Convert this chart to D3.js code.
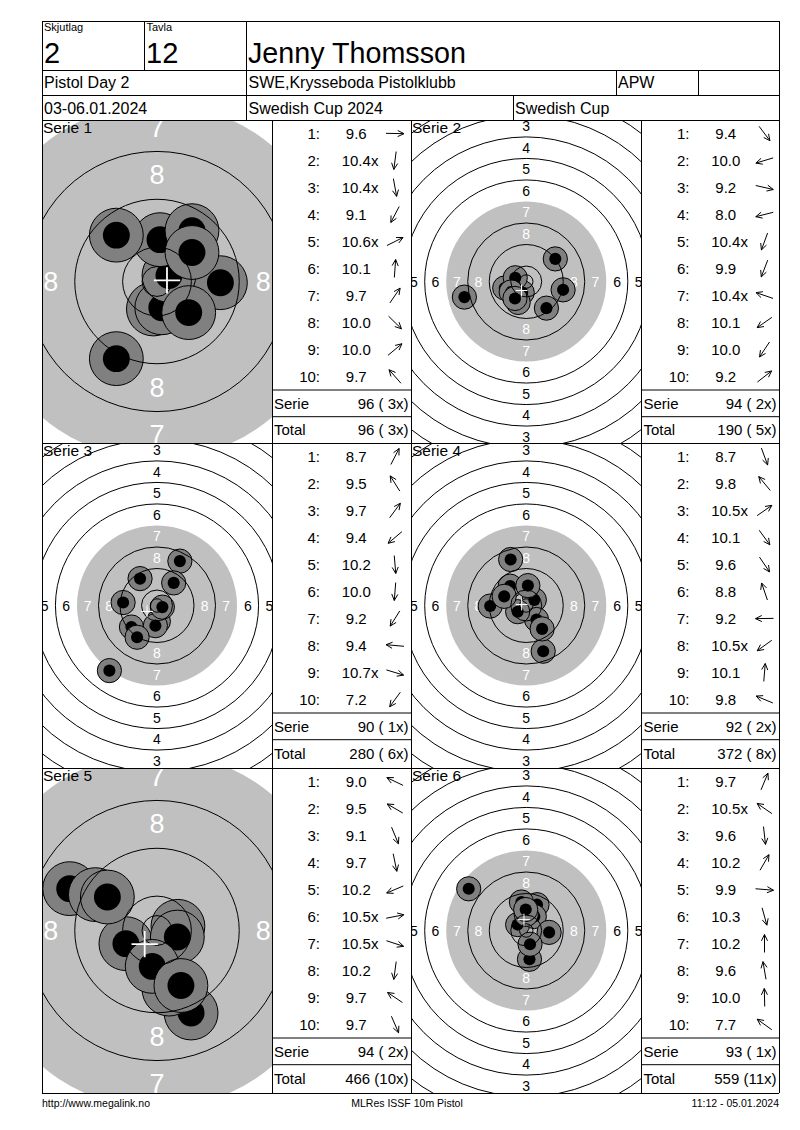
<!DOCTYPE html>
<html>
<head>
<meta charset="utf-8">
<script src="https://cdn.jsdelivr.net/npm/d3@7"></script>
<style>
  body { margin: 0; background: #fff; }
  text { font-family: "Liberation Sans", Arial, sans-serif; white-space: pre; }
</style>
</head>
<body>
<div id="chart"></div>
<script>
const relay = '2'
const lane = '12'
const shooter = 'Jenny Thomsson'
const eventName = 'Pistol Day 2'
const club = 'SWE,Krysseboda Pistolklubb'
const shooterClass = 'APW'
const dates = '03-06.01.2024'
const competition = 'Swedish Cup 2024'
const cup = 'Swedish Cup'
const footer = ['http://www.megalink.no', 'MLRes ISSF 10m Pistol', '11:12 - 05.01.2024']

const seriesNames = ['Serie 1', 'Serie 2', 'Serie 3', 'Serie 4', 'Serie 5', 'Serie 6']
// series 1 and 5 are shown magnified (all shots inside the 9 ring)
const zoomed = [true, false, false, false, true, false]

const scores = [
    ['9.6', '10.4x', '10.4x', '9.1', '10.6x', '10.1', '9.7', '10.0', '10.0', '9.7'],
    ['9.4', '10.0', '9.2', '8.0', '10.4x', '9.9', '10.4x', '10.1', '10.0', '9.2'],
    ['8.7', '9.5', '9.7', '9.4', '10.2', '10.0', '9.2', '9.4', '10.7x', '7.2'],
    ['8.7', '9.8', '10.5x', '10.1', '9.6', '8.8', '9.2', '10.5x', '10.1', '9.8'],
    ['9.0', '9.5', '9.1', '9.7', '10.2', '10.5x', '10.5x', '10.2', '9.7', '9.7'],
    ['9.7', '10.5x', '9.6', '10.2', '9.9', '10.3', '10.2', '9.6', '10.0', '7.7'],
]
// shot positions in mm from the centre (x right, y down)
const shotX = [
    [10.6, -0.6, 0.8, -6.8, 2.0, 0.5, 5.85, 5.3, 5.85, -6.8],
    [7.5, -8.0, 13.7, -23.0, -1.5, -3.0, -4.1, -5.6, -4.2, 10.8],
    [8.5, -6.3, 6.2, -9.5, 0.5, -0.6, -7.4, -12.6, 2.0, -17.7],
    [6.3, -6.0, 3.0, 3.8, 5.9, -5.8, -13.4, -3.2, 0.6, -8.2],
    [-14.6, -10.3, 5.7, 2.0, -5.2, 3.5, 3.4, -0.8, -8.3, 4.0],
    [4.0, -3.2, 1.2, 3.0, 8.5, 1.4, 0.0, -1.8, -0.2, -21.4],
]
const shotY = [
    [0.2, 4.6, 4.4, 12.9, -1.0, -7.0, -8.5, 5.2, -4.85, -7.75],
    [9.9, 2.4, 3.1, 5.8, 4.1, 7.8, -1.4, 3.9, 6.3, -8.4],
    [-16.5, -10.0, -8.4, 8.0, 5.9, 7.5, 11.8, -1.1, 0.6, 24.2],
    [17.0, -7.2, -2.1, 5.2, 8.7, -17.1, 0.2, 2.3, -7.4, -3.4],
    [-7.0, -6.0, 13.8, 9.8, 2.2, -0.7, 1.1, 6.0, -5.6, 9.2],
    [-9.6, -2.2, 10.7, -5.2, 0.7, 5.1, -6.0, -10.6, -7.8, -15.5],
]

// ISSF 10 m air pistol target, ring diameters in mm (rings 1..10)
const ringDiam = [155.5, 139.5, 123.5, 107.5, 91.5, 75.5, 59.5, 43.5, 27.5, 11.5]
const innerTenDiam = 5.0
const pelletDiam = 4.5

// ---- layout ----
const width = 800, height = 1130
const frameL = 42, frameR = 779, frameT = 21
const targetCols = [[42, 272], [411, 641.5]]
const listCols = [[272, 411], [641.5, 779]]
const rowY = [120, 443, 768, 1093]
const pxPerMm = {zoom: 5.98, normal: 2.69}
const labelSize = {zoom: 27, normal: 14}

const svg = d3.select('#chart').append('svg')
    .attr('width', width)
    .attr('height', height)

// ---- header ----
const header = svg.append('g')
const htext = (txt, x, y, size, anchor) => header.append('text')
    .text(txt).attr('x', x).attr('y', y).attr('font-size', size)
    .attr('text-anchor', anchor || 'start')
htext('Skjutlag', 44, 31, 11)
htext('Tavla', 146.5, 31, 11)
htext(relay, 44, 63, 29)
htext(lane, 146, 63, 29)
htext(shooter, 248, 63, 28.7)
htext(eventName, 44, 88, 16)
htext(club, 248.5, 88, 16)
htext(shooterClass, 618, 88, 16)
htext(dates, 44, 114, 16)
htext(competition, 248.5, 114, 16)
htext(cup, 515, 114, 16)

// ---- targets ----
let total = 0, totalX = 0
seriesNames.forEach((name, i) => {
    const col = i % 2, row = Math.floor(i / 2)
    const [x0, x1] = targetCols[col]
    const y0 = rowY[row], y1 = rowY[row + 1]
    const k = zoomed[i] ? pxPerMm.zoom : pxPerMm.normal
    const halfW = (x1 - x0) / 2 / k, halfH = (y1 - y0) / 2 / k
    const x = d3.scaleLinear().domain([-halfW, halfW]).range([x0, x1])
    const y = d3.scaleLinear().domain([-halfH, halfH]).range([y0, y1])
    const r = d => d / 2 * k

    svg.append('clipPath').attr('id', `clip${i}`)
        .append('rect').attr('x', x0).attr('y', y0).attr('width', x1 - x0).attr('height', y1 - y0)
    const g = svg.append('g').attr('clip-path', `url(#clip${i})`)

    // black aiming area (ring 7 and in) drawn grey
    g.append('circle')
        .attr('cx', x(0)).attr('cy', y(0)).attr('r', r(ringDiam[6]))
        .attr('fill', '#c0c0c0')

    // ring numbers 1..8 on four axes, only those that fall inside the panel
    const labels = []
    ringDiam.slice(0, 8).forEach((d, n) => {
        const mid = (d + ringDiam[n + 1]) / 4
        ;[[0, -1], [0, 1], [-1, 0], [1, 0]].forEach(([ux, uy]) => {
            labels.push({ring: n + 1, mx: ux * mid, my: uy * mid})
        })
    })
    const inside = labels.filter(d => Math.abs(d.mx) < halfW && Math.abs(d.my) < halfH)
    g.selectAll('.ringlabel').data(inside).join('text')
        .attr('class', 'ringlabel')
        .attr('x', d => x(d.mx)).attr('y', d => y(d.my))
        .attr('text-anchor', 'middle')
        .attr('dominant-baseline', 'central')
        .attr('font-size', zoomed[i] ? labelSize.zoom : labelSize.normal)
        .attr('fill', d => d.ring >= 7 ? '#fff' : '#000')
        .text(d => d.ring)

    // shots
    const shots = scores[i].map((s, j) => ({n: j + 1, s, mx: shotX[i][j], my: shotY[i][j]}))
    const sg = g.selectAll('.shot').data(shots).join('g').attr('class', 'shot')
    sg.append('circle')
        .attr('cx', d => x(d.mx)).attr('cy', d => y(d.my))
        .attr('r', r(pelletDiam * 2))
        .attr('fill', '#808080').attr('stroke', '#000').attr('stroke-width', 1)
    sg.append('circle')
        .attr('cx', d => x(d.mx)).attr('cy', d => y(d.my))
        .attr('r', r(pelletDiam))
        .attr('fill', '#000')

    // ring lines (no line on the edge of the aiming area)
    const lines = ringDiam.filter((d, n) => n !== 6).concat([innerTenDiam])
    g.selectAll('.ring').data(lines).join('circle')
        .attr('class', 'ring')
        .attr('cx', x(0)).attr('cy', y(0)).attr('r', d => r(d))
        .attr('fill', 'none').attr('stroke', '#000').attr('stroke-width', 1)

    // mean point of impact
    const mx = d3.mean(shots, d => d.mx), my = d3.mean(shots, d => d.my)
    const c = 2.2
    g.append('path')
        .attr('d', `M${x(mx - c)},${y(my)}H${x(mx + c)}M${x(mx)},${y(my - c)}V${y(my + c)}`)
        .attr('stroke', '#fff').attr('stroke-width', Math.max(1, 0.3 * k)).attr('fill', 'none')

    svg.append('text').text(name)
        .attr('x', x0 + 1).attr('y', y0 + 13).attr('font-size', 15.5)

    // ---- score list ----
    const [l0, l1] = listCols[col]
    const rowH = 27
    const lg = svg.append('g')
    shots.forEach((d, j) => {
        const cy = y0 + rowH * (j + 0.5)
        lg.append('text').text(`${d.n}:`)
            .attr('x', l0 + 48).attr('y', cy + 5.5)
            .attr('text-anchor', 'end').attr('font-size', 15)
        lg.append('text').text(parseFloat(d.s) < 10 ? ' ' + d.s : d.s)
            .attr('x', l0 + 69.7).attr('y', cy + 5.5).attr('font-size', 15)
        // direction arrow
        const a = Math.atan2(d.my, d.mx)
        const ax = l0 + 123, L = 9, h = 7, sp = 0.45
        const tx = ax + Math.cos(a) * L, ty = cy + Math.sin(a) * L
        const bx = ax - Math.cos(a) * L, by = cy - Math.sin(a) * L
        lg.append('path')
            .attr('d', `M${bx},${by}L${tx},${ty}` +
                `M${tx - h * Math.cos(a - sp)},${ty - h * Math.sin(a - sp)}L${tx},${ty}` +
                `L${tx - h * Math.cos(a + sp)},${ty - h * Math.sin(a + sp)}`)
            .attr('fill', 'none').attr('stroke', '#000').attr('stroke-width', 1)
    })
    const sum = d3.sum(shots, d => Math.floor(parseFloat(d.s)))
    const xs = shots.filter(d => d.s.includes('x')).length
    total += sum
    totalX += xs
    const fmt = (v, n) => `${v} (${String(n).padStart(2, ' ')}x)`
    const sepA = y0 + rowH * 10, sepB = sepA + 26.7
    ;[['Serie', fmt(sum, xs), (sepA + sepB) / 2], ['Total', fmt(total, totalX), (sepB + y1) / 2]]
        .forEach(([lab, val, cy]) => {
            lg.append('text').text(lab).attr('x', l0 + 2).attr('y', cy + 5.5).attr('font-size', 15)
            lg.append('text').text(val).attr('x', l1 - 2.5).attr('y', cy + 5.5)
                .attr('text-anchor', 'end').attr('font-size', 15)
        })
    lg.append('path')
        .attr('d', `M${l0},${sepA}H${l1}M${l0},${sepB}H${l1}`)
        .attr('stroke', '#000').attr('stroke-width', 1)
})

// ---- grid lines ----
const grid = [
    // outer frame
    [frameL, frameT, frameR, frameT], [frameL, rowY[3], frameR, rowY[3]],
    [frameL, frameT, frameL, rowY[3]], [frameR, frameT, frameR, rowY[3]],
    // header rows
    [frameL, 70, frameR, 70], [frameL, 95, frameR, 95], [frameL, 120, frameR, 120],
    [144.3, frameT, 144.3, 70], [246.7, frameT, 246.7, 120],
    [616.7, 70, 616.7, 95], [698.3, 70, 698.3, 95], [513.3, 95, 513.3, 120],
    // series blocks
    [frameL, rowY[1], frameR, rowY[1]], [frameL, rowY[2], frameR, rowY[2]],
    [targetCols[0][1], 120, targetCols[0][1], rowY[3]],
    [targetCols[1][0], 120, targetCols[1][0], rowY[3]],
    [targetCols[1][1], 120, targetCols[1][1], rowY[3]],
]
svg.append('g').selectAll('line').data(grid).join('line')
    .attr('x1', d => d[0]).attr('y1', d => d[1]).attr('x2', d => d[2]).attr('y2', d => d[3])
    .attr('stroke', '#000').attr('stroke-width', 1)
    .attr('shape-rendering', 'crispEdges')

// ---- footer ----
svg.append('text').text(footer[0]).attr('x', 42).attr('y', 1107).attr('font-size', 10.5)
svg.append('text').text(footer[1]).attr('x', 407).attr('y', 1107).attr('font-size', 10.5)
    .attr('text-anchor', 'middle')
svg.append('text').text(footer[2]).attr('x', 779).attr('y', 1107).attr('font-size', 10.5)
    .attr('text-anchor', 'end')
</script>
</body>
</html>
